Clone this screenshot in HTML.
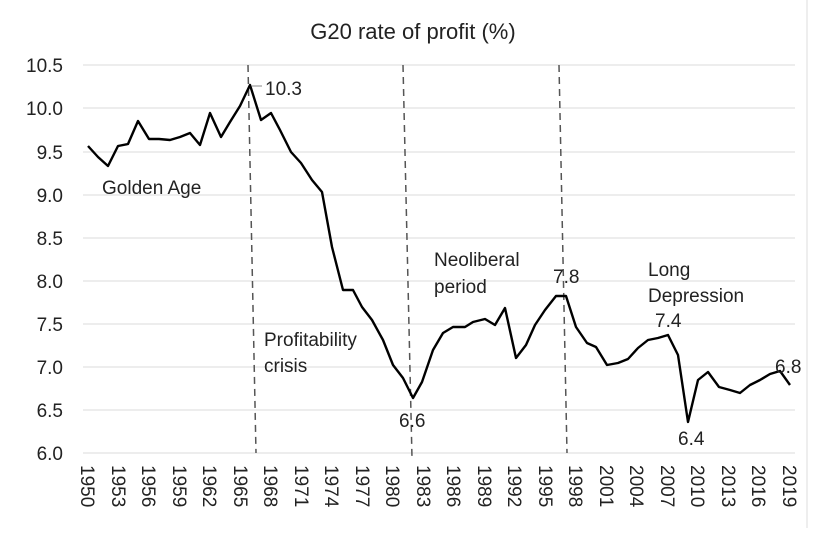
<!DOCTYPE html>
<html><head><meta charset="utf-8"><style>
body{margin:0;background:#fff;}
svg text{font-family:"Liberation Sans",sans-serif;fill:#222;}
</style></head><body>
<svg width="824" height="528" viewBox="0 0 824 528" xmlns="http://www.w3.org/2000/svg">
<rect x="0" y="0" width="824" height="528" fill="#fff"/>
<line x1="807" y1="0" x2="807" y2="528" stroke="#ddd" stroke-width="1"/>
<text x="413" y="39" font-size="22" text-anchor="middle">G20 rate of profit (%)</text>
<g stroke="#e2e2e2" stroke-width="1.2">
<line x1="83" x2="795" y1="65" y2="65"/><line x1="83" x2="795" y1="108" y2="108"/>
<line x1="83" x2="795" y1="152" y2="152"/><line x1="83" x2="795" y1="195" y2="195"/>
<line x1="83" x2="795" y1="238" y2="238"/><line x1="83" x2="795" y1="281" y2="281"/>
<line x1="83" x2="795" y1="324" y2="324"/><line x1="83" x2="795" y1="367" y2="367"/>
<line x1="83" x2="795" y1="410" y2="410"/><line x1="83" x2="795" y1="453" y2="453"/>
</g>
<g font-size="19" text-anchor="end">
<text x="63" y="72">10.5</text><text x="63" y="115">10.0</text><text x="63" y="159">9.5</text>
<text x="63" y="202">9.0</text><text x="63" y="245">8.5</text><text x="63" y="288">8.0</text>
<text x="63" y="331">7.5</text><text x="63" y="374">7.0</text><text x="63" y="417">6.5</text>
<text x="63" y="460">6.0</text>
</g>
<g stroke="#555" stroke-width="1.5" stroke-dasharray="7,5">
<line x1="248" y1="65" x2="256" y2="453"/>
<line x1="403" y1="65" x2="412" y2="458"/>
<line x1="559" y1="65" x2="567" y2="453"/>
</g>
<polyline fill="none" stroke="#000" stroke-width="2.4" stroke-linejoin="round" points="88,146 98,157 108,166 118,146 128,144 138,121 149,139 159,139 170,140 180,137 190,133 200,145 210,113 221,137 230,122 240,106 250,85 261,120 271,113 280,130 291,152 301,163 312,180 322,192 332,247 343,290 353,290 362,307 372,320 383,340 393,365 403,378 413,398 422,382 433,350 443,333 453,327 465,327 473,322 485,319 495,325 505,308 516,358 526,345 535,325 545,310 556,296 566,296 576,327 587,343 596,347 607,365 618,363 628,359 638,348 648,340 658,338 668,335 678,355 688,422 698,380 708,372 719,387 730,390 740,393 750,385 760,380 770,374 780,371 790,385"/>
<line x1="252" y1="86" x2="262" y2="86" stroke="#888" stroke-width="1"/>
<g font-size="19">
<text x="102" y="194">Golden Age</text>
<text x="265" y="95">10.3</text>
<text x="264" y="346">Profitability</text>
<text x="264" y="372">crisis</text>
<text x="399" y="427">6.6</text>
<text x="434" y="266">Neoliberal</text>
<text x="434" y="293">period</text>
<text x="553" y="283">7.8</text>
<text x="648" y="276">Long</text>
<text x="648" y="302">Depression</text>
<text x="655" y="327">7.4</text>
<text x="678" y="445">6.4</text>
<text x="775" y="373">6.8</text>
</g>
<g font-size="19">
<text transform="translate(81,465) rotate(90)">1950</text>
<text transform="translate(112,465) rotate(90)">1953</text>
<text transform="translate(142,465) rotate(90)">1956</text>
<text transform="translate(173,465) rotate(90)">1959</text>
<text transform="translate(203,465) rotate(90)">1962</text>
<text transform="translate(234,465) rotate(90)">1965</text>
<text transform="translate(264,465) rotate(90)">1968</text>
<text transform="translate(295,465) rotate(90)">1971</text>
<text transform="translate(325,465) rotate(90)">1974</text>
<text transform="translate(356,465) rotate(90)">1977</text>
<text transform="translate(386,465) rotate(90)">1980</text>
<text transform="translate(417,465) rotate(90)">1983</text>
<text transform="translate(447,465) rotate(90)">1986</text>
<text transform="translate(478,465) rotate(90)">1989</text>
<text transform="translate(508,465) rotate(90)">1992</text>
<text transform="translate(539,465) rotate(90)">1995</text>
<text transform="translate(569,465) rotate(90)">1998</text>
<text transform="translate(600,465) rotate(90)">2001</text>
<text transform="translate(630,465) rotate(90)">2004</text>
<text transform="translate(661,465) rotate(90)">2007</text>
<text transform="translate(691,465) rotate(90)">2010</text>
<text transform="translate(722,465) rotate(90)">2013</text>
<text transform="translate(752,465) rotate(90)">2016</text>
<text transform="translate(783,465) rotate(90)">2019</text>
</g>
</svg>
</body></html>
